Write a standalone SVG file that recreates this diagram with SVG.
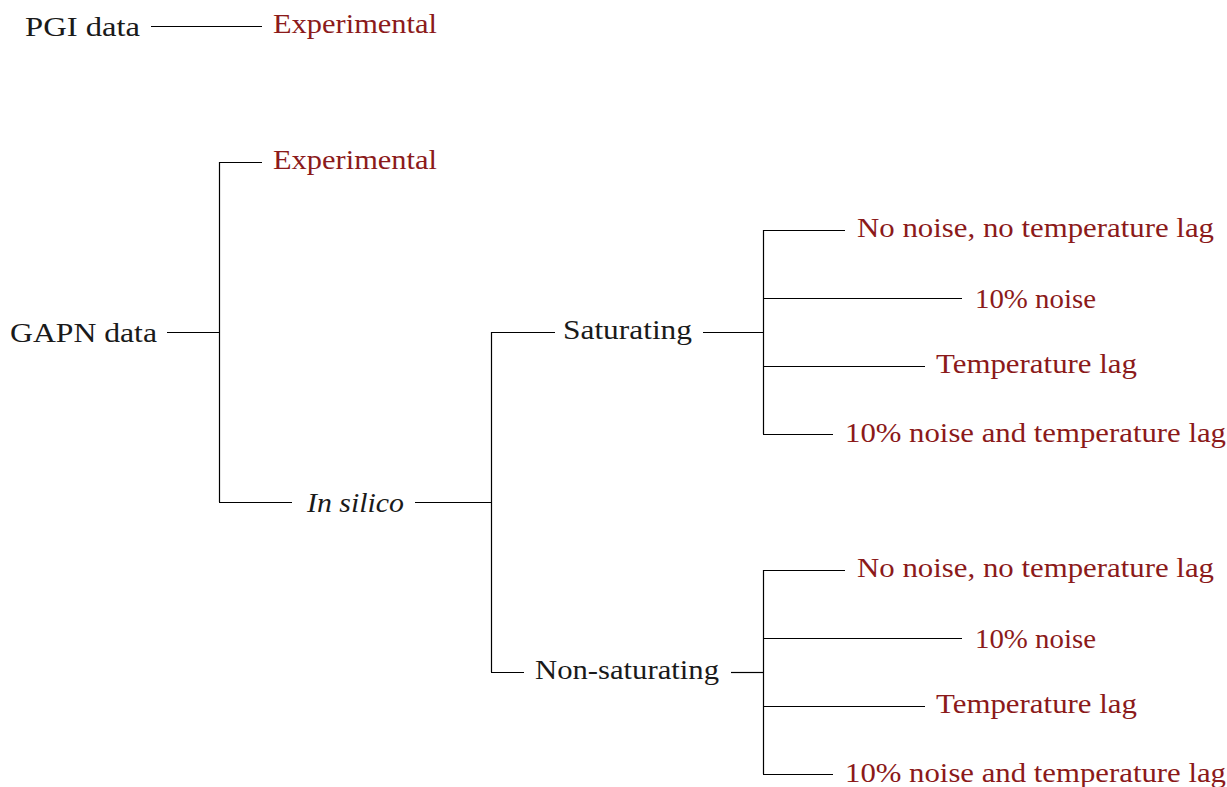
<svg xmlns="http://www.w3.org/2000/svg" width="1227" height="787" viewBox="0 0 1227 787">
<style>
text{font-family:"Liberation Serif","Times New Roman",serif;font-size:28px;}
.k{fill:#1a1a1a;}
.r{fill:#8b1a1a;}
.it{font-style:italic;}
.c line{stroke:#000;stroke-width:1.2;}
</style>
<rect width="1227" height="787" fill="#fff"/>
<g id="connectors" class="c">
<line x1="151" y1="26.5" x2="262" y2="26.5"/>
<line x1="167" y1="332.5" x2="219" y2="332.5"/>
<line x1="219.5" y1="162" x2="219.5" y2="502"/>
<line x1="219" y1="162.5" x2="262" y2="162.5"/>
<line x1="219" y1="502.5" x2="292" y2="502.5"/>
<line x1="415" y1="502.5" x2="491" y2="502.5"/>
<line x1="491.5" y1="332" x2="491.5" y2="672"/>
<line x1="491" y1="332.5" x2="555" y2="332.5"/>
<line x1="491" y1="672.5" x2="524" y2="672.5"/>
<line x1="703" y1="332.5" x2="763" y2="332.5"/>
<line x1="731" y1="672.5" x2="763" y2="672.5"/>
<line x1="763.5" y1="230" x2="763.5" y2="434"/>
<line x1="763" y1="230.5" x2="845" y2="230.5"/>
<line x1="763" y1="298.5" x2="962" y2="298.5"/>
<line x1="763" y1="366.5" x2="925" y2="366.5"/>
<line x1="763" y1="434.5" x2="833" y2="434.5"/>
<line x1="763.5" y1="570" x2="763.5" y2="774"/>
<line x1="763" y1="570.5" x2="845" y2="570.5"/>
<line x1="763" y1="638.5" x2="962" y2="638.5"/>
<line x1="763" y1="706.5" x2="925" y2="706.5"/>
<line x1="763" y1="774.5" x2="833" y2="774.5"/>
</g>
<g id="pgi"><text class="k" x="25" y="35.5" textLength="115" lengthAdjust="spacingAndGlyphs">PGI data</text></g>
<g id="pgi-exp"><text class="r" x="273" y="33" textLength="164" lengthAdjust="spacingAndGlyphs">Experimental</text></g>
<g id="gapn"><text class="k" x="10" y="341.5" textLength="147" lengthAdjust="spacingAndGlyphs">GAPN data</text></g>
<g id="gapn-exp"><text class="r" x="273" y="169" textLength="164" lengthAdjust="spacingAndGlyphs">Experimental</text></g>
<g id="insilico"><text class="k it" x="307" y="511.5" textLength="97" lengthAdjust="spacingAndGlyphs">In silico</text></g>
<g id="sat"><text class="k" x="563" y="339" textLength="129" lengthAdjust="spacingAndGlyphs">Saturating</text></g>
<g id="nonsat"><text class="k" x="535" y="679" textLength="184" lengthAdjust="spacingAndGlyphs">Non-saturating</text></g>
<g id="sat-1"><text class="r" x="857" y="237" textLength="357" lengthAdjust="spacingAndGlyphs">No noise, no temperature lag</text></g>
<g id="sat-2"><text class="r" x="975" y="307.5" textLength="121" lengthAdjust="spacingAndGlyphs">10% noise</text></g>
<g id="sat-3"><text class="r" x="936" y="373" textLength="201" lengthAdjust="spacingAndGlyphs">Temperature lag</text></g>
<g id="sat-4"><text class="r" x="845" y="442" textLength="381" lengthAdjust="spacingAndGlyphs">10% noise and temperature lag</text></g>
<g id="ns-1"><text class="r" x="857" y="577" textLength="357" lengthAdjust="spacingAndGlyphs">No noise, no temperature lag</text></g>
<g id="ns-2"><text class="r" x="975" y="647.5" textLength="121" lengthAdjust="spacingAndGlyphs">10% noise</text></g>
<g id="ns-3"><text class="r" x="936" y="713" textLength="201" lengthAdjust="spacingAndGlyphs">Temperature lag</text></g>
<g id="ns-4"><text class="r" x="845" y="782" textLength="381" lengthAdjust="spacingAndGlyphs">10% noise and temperature lag</text></g>
</svg>
